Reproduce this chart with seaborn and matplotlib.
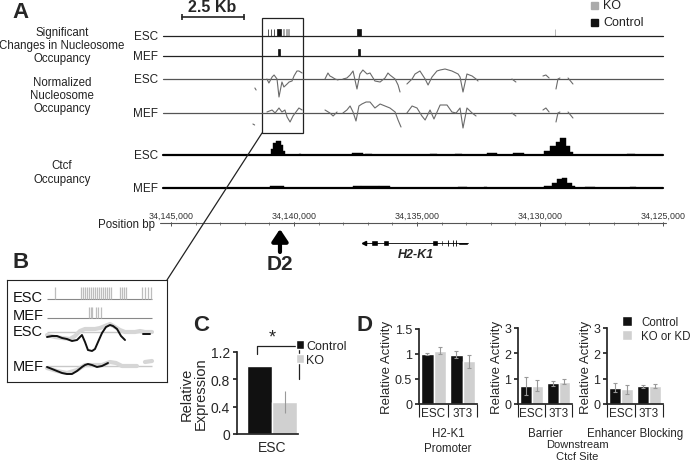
import numpy as np
import pandas as pd
import matplotlib
matplotlib.use("Agg")
import matplotlib.pyplot as plt
import seaborn as sns
from matplotlib.patches import Rectangle, ConnectionPatch

# ---------------- Panel A data (kb upstream of 34,125,000) ----------------
REF_BP = 34125000
genome_ticks_bp = [34145000, 34140000, 34135000, 34130000, 34125000]

# significant changes in nucleosome occupancy: (position kb, width kb)
sig_esc_control = [(16.06, 0.03), (15.93, 0.03), (15.81, 0.03), (15.61, 0.16), (12.36, 0.16)]
sig_esc_ko = [(15.43, 0.03), (15.30, 0.03), (15.22, 0.03), (4.39, 0.03)]
sig_mef_control = [(15.61, 0.05), (12.36, 0.05)]

# normalized nucleosome occupancy segments: (position kb, deviation)
nuc_esc = [
    [(16.59, -9), (16.54, -11)],
    [(16.10, 0), (16.02, -4), (15.89, 2), (15.81, 4), (15.69, 0), (15.61, -18), (15.49, -3),
     (15.41, -8), (15.28, -5), (15.20, -3), (15.08, -2), (15.00, 3), (14.88, 8), (14.80, 8), (14.67, 6)],
    [(13.74, 0), (13.62, 6), (13.54, 3), (13.46, 2), (13.33, 0), (13.21, -1)],
    [(13.01, 0), (12.85, 1), (12.72, 4), (12.60, 8), (12.44, -10), (12.32, 5), (12.20, 9), (12.03, 5),
     (11.91, 6), (11.71, -2), (11.50, -3), (11.30, 1), (11.18, 6), (11.10, 4), (10.89, 0), (10.77, -6),
     (10.69, -13)],
    [(10.41, -5), (10.20, 0), (10.08, 5), (9.88, 8), (9.67, 0), (9.55, -6), (9.39, 2), (9.19, 8),
     (9.06, 9), (8.86, 10), (8.58, 8), (8.33, 5), (8.25, 2), (8.13, -13), (7.97, 5), (7.76, 3),
     (7.60, 0), (7.52, -2)],
    [(6.14, 0), (5.98, -3)],
    [(4.88, 3), (4.76, 4), (4.63, 1)],
    [(4.35, -10), (4.27, 0), (4.19, 1)],
    [(3.86, 1), (3.66, -5)],
]
nuc_mef = [
    [(16.67, -11), (16.60, -12)],
    [(16.10, 1), (15.89, 3), (15.77, 0), (15.61, 5), (15.49, 1), (15.37, 3), (15.28, -4), (15.16, -9),
     (15.04, -3), (14.92, 1), (14.80, 5), (14.67, 3)],
    [(13.74, 3), (13.54, 0), (13.41, -3), (13.25, 1)],
    [(13.01, 0), (12.85, 3), (12.72, 7), (12.60, 1), (12.48, -8), (12.36, 7), (12.24, 9), (12.07, 11),
     (11.91, 11), (11.71, 5), (11.50, 9), (11.30, 7), (11.10, 5), (10.89, 1), (10.77, -7), (10.65, -14)],
    [(10.41, 0), (10.20, 7), (10.00, 5), (9.80, -3), (9.67, -7), (9.47, 3), (9.31, -6), (9.06, 8),
     (8.78, 8), (8.58, 1), (8.41, 0), (8.25, 5), (8.13, -15), (7.97, 5), (7.76, 0), (7.60, -3)],
    [(6.14, 0), (5.98, -3)],
    [(4.88, 3), (4.76, 5), (4.63, 1)],
    [(4.35, -9), (4.27, 0), (4.19, 1)],
    [(3.86, 1), (3.66, -5)],
]

# Ctcf occupancy bins: (start kb, end kb, height)
ctcf_esc = [(15.94, 15.85, 6), (15.85, 15.73, 12), (15.73, 15.53, 14), (15.53, 15.45, 10), (15.45, 15.37, 4),
            (14.80, 14.72, 1), (12.64, 12.20, 2), (12.11, 11.83, 1), (9.47, 9.19, 1.5), (8.46, 8.17, 1.5),
            (7.15, 6.75, 2), (6.10, 5.65, 2), (4.84, 4.59, 4), (4.59, 4.35, 9), (4.35, 4.19, 13),
            (4.19, 3.94, 17), (3.94, 3.78, 9), (3.78, 3.66, 3), (1.46, 1.14, 1.5)]
ctcf_mef = [(15.97, 15.41, 2.5), (12.60, 12.28, 2), (12.28, 11.54, 2.5), (11.54, 11.10, 2),
            (8.33, 7.97, 1.5), (7.28, 7.15, 1.5), (4.84, 4.51, 2), (4.51, 4.31, 5), (4.31, 4.11, 9),
            (4.11, 3.90, 10), (3.90, 3.70, 5), (3.70, 3.58, 2), (3.17, 2.76, 1.5), (1.34, 1.10, 1.5)]

# H2-K1 gene model
gene_span_kb = (12.15, 7.93)
gene_exons_kb = [(11.85, 11.59), (11.40, 11.14), (9.41, 9.15), (9.02, 8.93)]
gene_utr_kb = [(8.32, 7.93)]
gene_small_exons_kb = [8.74, 8.54, 8.41]
d2_kb = 15.57
zoom_kb = (16.30, 14.63)
scale_bar_kb = (19.55, 17.05)
track_span_kb = (20.33, 0.0)

# ---------------- Panel B data (percent of zoomed window) ----------------
b_esc_sig = [7.6, 32.4, 34.3, 36.2, 38.1, 40.0, 41.9, 43.8, 45.7, 47.6, 49.5, 51.4, 53.3, 55.2, 57.1,
             59.0, 61.0, 69.5, 71.4, 73.3, 75.2, 90.5, 93.3, 96.2, 99.0]
b_mef_sig = [40.3, 41.7, 43.1, 46.4, 48.8, 51.1]
b_esc_control = [(0, -5), (4.8, -4), (9.5, -4), (14.3, -6), (19, -7), (23.8, -9), (28.6, -8), (33.3, -3),
                 (36.2, -10), (39, -18), (42.9, -19), (45.7, -17), (48.6, -10), (52.4, -1), (56.2, 5),
                 (60, 7), (62.9, 6), (66.7, 3), (70.5, -4), (74.3, -8)]
b_esc_control_end = [(91.4, -2), (98.1, -2)]
b_esc_ko = [(0, -3), (7.6, -5), (14.3, -6), (21.9, -7), (26.7, -4), (31.4, 1), (36.2, 3), (41, 3),
            (45.7, 3), (50.5, 4), (55.2, 6), (60, 8), (64.8, 5), (69.5, 2), (74.3, 0), (79, 0),
            (83.8, 0), (88.6, 1), (93.3, 0), (100, 0)]
b_mef_control = [(0, -1), (4.8, -3), (9.5, -5), (14.3, -7), (19, -8), (23.8, -8), (28.6, -5), (33.3, -1),
                 (36.2, 1), (39, 2), (42.9, 1), (47.6, -1), (52.4, 0), (56.2, 2), (58.1, 3)]
b_mef_ko = [(0, -2), (9.5, -5), (19, -7), (28.6, -4), (36.2, 1), (42.9, 1), (52.4, 1), (60, 4),
            (65.7, 3), (71.4, 0), (78, 0), (85.7, 0)]
b_mef_ko_end = [(93.3, 4), (100, 5)]

# ---------------- Panel C data ----------------
c_groups = ["Control", "KO"]
c_expr = [1.0, 0.47]
c_err = [0.0, 0.16]

# ---------------- Panel D data ----------------
d_assays = ["H2-K1\nPromoter", "Barrier", "Enhancer Blocking"]
d_cells = ["ESC", "3T3"]
d_groups = ["Control", "KO or KD"]
d_control = [[1.0, 0.99], [0.70, 0.82], [0.65, 0.70]]
d_control_err = [[0.02, 0.07], [0.35, 0.10], [0.18, 0.06]]
d_kokd = [[1.07, 0.86], [0.72, 0.87], [0.58, 0.70]]
d_kokd_err = [[0.07, 0.13], [0.22, 0.10], [0.18, 0.07]]
d_ymax = [1.5, 3, 3]
d_yticks = [[0, 0.5, 1, 1.5], [0, 1, 2, 3], [0, 1, 2, 3]]

BLACK = "#111111"
LIGHT = "#d0d0d0"

sns.set_theme(style="ticks")
plt.rcParams['font.family'] = ['Liberation Sans', 'DejaVu Sans']

W, H = 696, 464
fig = plt.figure(figsize=(W / 100, H / 100), dpi=100)


def fx(x):
    return x / W


def fy(y):
    return 1 - y / H


def ftext(x, y, s, **kw):
    fig.text(fx(x), fy(y), s, **kw)


def add_ax(left, top, right, bottom):
    return fig.add_axes([fx(left), fy(bottom), (right - left) / W, (bottom - top) / H])


def bp(kb):
    return REF_BP + np.asarray(kb) * 1000.0


# ---------------- Panel A ----------------
axA = fig.add_axes([0, 0, 1, 1])
axA.set_xlim(REF_BP + 663 * 40.65, REF_BP - 33 * 40.65)
axA.set_ylim(H, 0)
axA.axis("off")

y_sig_esc, y_sig_mef = 37, 57
y_nuc_esc, y_nuc_mef = 80, 114
y_ctcf_esc, y_ctcf_mef = 156, 189
y_pos, y_gene = 224, 244

x0, x1 = bp(track_span_kb[0]), bp(track_span_kb[1])
for y in (y_sig_esc, y_sig_mef):
    axA.plot([x0, x1], [y, y], color="#222222", lw=0.9)
for y in (y_nuc_esc, y_nuc_mef):
    axA.plot([x0, x1], [y, y], color="#555555", lw=0.9)
for y in (y_ctcf_esc, y_ctcf_mef):
    axA.plot([x0, x1], [y, y], color="black", lw=1.6)

for items, y, col in [(sig_esc_control, y_sig_esc, BLACK), (sig_esc_ko, y_sig_esc, "#9a9a9a"),
                      (sig_mef_control, y_sig_mef, BLACK)]:
    for pos, w in items:
        axA.bar(bp(pos), -7, width=w * 1000, bottom=y, color=col, edgecolor=col, lw=0.5)

for segs, y in [(nuc_esc, y_nuc_esc), (nuc_mef, y_nuc_mef)]:
    for seg in segs:
        pos, dev = zip(*seg)
        axA.plot(bp(pos), y - np.array(dev), color="#6a6a6a", lw=0.8)

for bins, y in [(ctcf_esc, y_ctcf_esc), (ctcf_mef, y_ctcf_mef)]:
    for s, e, h in bins:
        axA.bar(bp((s + e) / 2), -h, width=(s - e) * 1000, bottom=y, color="black",
                edgecolor="black", lw=0.3)

# position axis
axA.plot([bp(20.45), bp(-0.12)], [y_pos, y_pos], color="#555555", lw=0.8)
minor = np.arange(0.0, 20.5, 1.0)
axA.vlines(bp(minor), y_pos - 1.5, y_pos + 1.5, color="#555555", lw=0.5)
axA.vlines(genome_ticks_bp, y_pos - 1.5, y_pos + 3, color="#555555", lw=0.7)
for t in genome_ticks_bp:
    axA.text(t, y_pos - 3, f"{t:,}", ha="center", va="bottom", fontsize=6.4, color="#333333")

# gene model
axA.plot(bp(gene_span_kb), [y_gene, y_gene], color="black", lw=0.6)
axA.plot(bp(gene_span_kb[0]), y_gene, marker="<", ms=3, color="black")
for s, e in gene_exons_kb:
    axA.bar(bp((s + e) / 2), -6, width=(s - e) * 1000, bottom=y_gene + 3, color="black")
for s, e in gene_utr_kb:
    axA.bar(bp((s + e) / 2), -3, width=(s - e) * 1000, bottom=y_gene + 1.5, color="black")
axA.vlines(bp(gene_small_exons_kb), y_gene - 3, y_gene + 3, color="black", lw=0.6)
axA.text(bp(np.mean(gene_span_kb)), 255, "H2-K1", ha="center", va="center", fontsize=9,
         style="italic", weight="bold")

# D2 arrow
axA.annotate("", xy=(bp(d2_kb), 230), xytext=(bp(d2_kb), 253),
             arrowprops=dict(arrowstyle="-|>,head_width=0.4,head_length=0.6", lw=3, color="black",
                             shrinkA=0, shrinkB=0))
axA.text(bp(d2_kb), 265, "D2", ha="center", va="center", fontsize=15, weight="bold")

# scale bar
axA.plot(bp(scale_bar_kb), [18, 18], color="#222222", lw=1.2)
axA.vlines(bp(scale_bar_kb), 15, 21, color="#222222", lw=1.2)
ftext(212, 8, "2.5 Kb", ha="center", va="center", fontsize=11.5, weight="bold")

# zoom box
axA.add_patch(Rectangle((bp(zoom_kb[0]), 19), bp(zoom_kb[1]) - bp(zoom_kb[0]), 115,
                        fill=False, ec="#222222", lw=0.9))

# track labels
lab = dict(ha="center", va="center", fontsize=8.3, linespacing=1.15, color="#222222")
ftext(62, 46, "Significant\nChanges in Nucleosome\nOccupancy", **lab)
ftext(62, 96, "Normalized\nNucleosome\nOccupancy", **lab)
ftext(62, 173, "Ctcf\nOccupancy", **lab)
for name, y in [("ESC", y_sig_esc), ("MEF", y_sig_mef), ("ESC", y_nuc_esc), ("MEF", y_nuc_mef),
                ("ESC", y_ctcf_esc), ("MEF", y_ctcf_mef)]:
    ftext(158, y, name, ha="right", va="center", fontsize=8.5, color="#222222")
ftext(155, 225, "Position bp", ha="right", va="center", fontsize=8.3, color="#222222")

# legend A
for name, col, y in [("KO", "#aaaaaa", 6), ("Control", BLACK, 23)]:
    fig.patches.append(Rectangle((fx(591), fy(y + 3.5)), 7 / W, 7 / H, transform=fig.transFigure,
                                 color=col, figure=fig))
    ftext(603, y, name, ha="left", va="center", fontsize=9, color="#222222")

for s, x, y in [("A", 12, 13), ("B", 12, 262), ("C", 193, 326), ("D", 356, 326)]:
    ftext(x, y, s, ha="left", va="center", fontsize=16, weight="bold")

# ---------------- Panel B ----------------
axB = add_ax(7, 281, 167, 383)
axB.set_xlim(-38.1, 114.3)
axB.set_ylim(102, 0)
axB.set_xticks([])
axB.set_yticks([])
for sp in axB.spines.values():
    sp.set_linewidth(0.8)
    sp.set_color("#222222")

axB.hlines([19, 38], 0, 100, color="#888888", lw=0.8)
axB.hlines([52, 86], 0, 100, color="#c8c8c8", lw=1.0)
axB.vlines(b_esc_sig, 7, 19, color="#bdbdbd", lw=0.9)
axB.vlines(b_mef_sig, 27, 38, color="#bdbdbd", lw=0.9)
for data, base, col, lw in [(b_esc_ko, 52, "#d6d6d6", 3), (b_mef_ko, 86, "#d6d6d6", 3),
                            (b_mef_ko_end, 86, "#d6d6d6", 3),
                            (b_esc_control, 52, BLACK, 1.4), (b_esc_control_end, 52, BLACK, 1.4),
                            (b_mef_control, 86, BLACK, 1.4)]:
    xs, dev = zip(*data)
    axB.plot(xs, base - np.array(dev), color=col, lw=lw, solid_capstyle="round")
for name, y in [("ESC", 17), ("MEF", 35), ("ESC", 51), ("MEF", 86)]:
    axB.text(-18.1, y, name, ha="center", va="center", fontsize=10.5, color="#111111")

con = ConnectionPatch(xyA=(bp(zoom_kb[0]), 134), coordsA="data", axesA=axA,
                      xyB=(1, 1), coordsB="axes fraction", axesB=axB, color="#222222", lw=0.9)
fig.add_artist(con)

# ---------------- Panel C ----------------
axC = add_ax(237, 353, 298, 435)
df_c = pd.DataFrame({"cell": ["ESC"] * 2, "group": c_groups, "expr": c_expr})
sns.barplot(data=df_c, x="cell", y="expr", hue="group", palette=[BLACK, LIGHT], width=0.8,
            errorbar=None, saturation=1, ax=axC)
for cont, err in zip(axC.containers, c_err):
    for bar in cont:
        if err > 0:
            axC.errorbar(bar.get_x() + bar.get_width() / 2, bar.get_height(), yerr=err,
                         color="#999999", lw=0.8, capsize=0)
axC.set_xlim(-0.56, 0.416)
axC.set_ylim(0, 1.2)
axC.set_yticks([0, 0.4, 0.8, 1.2], ["0", "0.4", "0.8", "1.2"])
axC.set_xlabel("")
axC.set_ylabel("Relative\nExpression", fontsize=10.5, linespacing=1.0, labelpad=2)
axC.tick_params(axis="y", labelsize=10, length=3, pad=2)
axC.tick_params(axis="x", labelsize=10, length=0, pad=4)
sns.despine(ax=axC)
axC.plot([-0.24, -0.24, 0.43, 0.43], [1.17, 1.29, 1.29, 0.805], color="#222222", lw=0.9, clip_on=False)
axC.text(0.0, 1.42, "*", ha="center", va="center", fontsize=13)
sns.move_legend(axC, "upper left", bbox_to_anchor=(0.97, 1.15), frameon=False, title=None,
                fontsize=9, handlelength=0.65, handleheight=0.8, handletextpad=0.15,
                labelspacing=0.15, borderpad=0, borderaxespad=0)

# ---------------- Panel D ----------------
d_boxes = [(419, 330, 477, 405), (518, 329, 572, 405), (607, 329, 663, 405)]
for i, box in enumerate(d_boxes):
    ax = add_ax(*box)
    df_d = pd.DataFrame({
        "cell": d_cells * 2,
        "group": [d_groups[0]] * 2 + [d_groups[1]] * 2,
        "value": d_control[i] + d_kokd[i],
    })
    sns.barplot(data=df_d, x="cell", y="value", hue="group", palette=[BLACK, LIGHT], width=0.88,
                errorbar=None, saturation=1, ax=ax, legend=(i == 2))
    for cont, errs in zip(ax.containers, [d_control_err[i], d_kokd_err[i]]):
        for bar, err in zip(cont, errs):
            ax.errorbar(bar.get_x() + bar.get_width() / 2, bar.get_height(), yerr=err,
                        color="#999999", lw=0.8, capsize=1.5, capthick=0.8)
    ax.set_xlim(-0.5, 1.5)
    ax.set_ylim(0, d_ymax[i])
    ax.set_yticks(d_yticks[i], [f"{t:g}" for t in d_yticks[i]])
    ax.set_xticks([-0.5, 0.5, 1.5], minor=True)
    ax.tick_params(axis="x", which="minor", length=9.5, width=0.8, color="#222222")
    ax.tick_params(axis="x", which="major", length=0, labelsize=8.5, pad=2)
    ax.tick_params(axis="y", labelsize=9, length=3, pad=2)
    ax.set_ylabel("Relative Activity", fontsize=9.5, labelpad=1)
    ax.set_xlabel(d_assays[i], fontsize=8.3, linespacing=1.25, labelpad=4)
    sns.despine(ax=ax)
    if i == 2:
        sns.move_legend(ax, "upper left", bbox_to_anchor=(0.26, 1.16), frameon=False, title=None,
                        fontsize=8.3, handlelength=0.9, handleheight=0.9, handletextpad=0.8,
                        labelspacing=0.2, borderpad=0, borderaxespad=0)
ftext(577, 451, "Downstream\nCtcf Site", ha="center", va="center", fontsize=8, linespacing=1.2)

fig.savefig("out.png", dpi=100)
